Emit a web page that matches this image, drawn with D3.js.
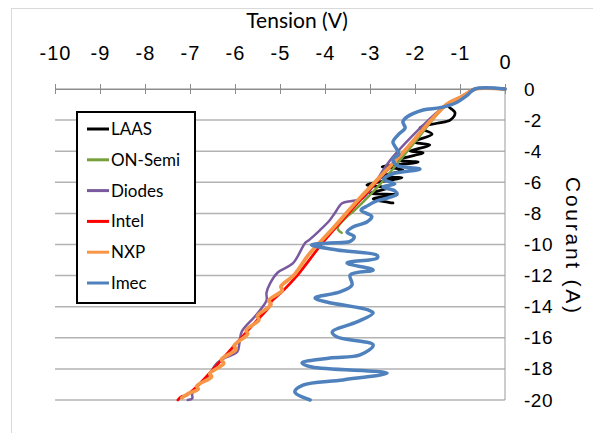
<!DOCTYPE html>
<html>
<head>
<meta charset="utf-8">
<script src="https://cdn.jsdelivr.net/npm/d3@7"></script>
<style>
  body { margin: 0; background: #fff; }
  svg { display: block; }
</style>
</head>
<body>
<div id="container"></div>
<script>
// tick values
let xTicks = [-10, -9, -8, -7, -6, -5, -4, -3, -2, -1, 0];
let yTicks = [0, -2, -4, -6, -8, -10, -12, -14, -16, -18, -20];

let seriesNames = ["LAAS", "ON-Semi", "Diodes", "Intel", "NXP", "Imec"];
let seriesColors = ["#000000", "#77a03c", "#7a5a9e", "#ff0000", "#f79646", "#4f81bd"];

// [tension V, courant A]
let laas = [[0,0],[-0.67,0],[-0.8,-0.2],[-1.0,-0.55],[-1.27,-1.03],[-1.11,-1.54],[-1.22,-2.0],[-1.51,-2.2],
  [-1.89,-2.5],[-1.62,-2.9],[-2.04,-3.4],[-1.67,-3.6],[-2.11,-4.0],[-1.82,-4.1],[-2.4,-4.57],[-1.93,-4.7],
  [-2.73,-5.0],[-2.27,-5.2],[-2.78,-5.66],[-2.29,-5.7],[-3.07,-6.17],[-2.6,-6.37],[-3.0,-6.7],[-2.4,-6.8],
  [-2.93,-7.07],[-2.49,-7.33]];
let onSemi = [[0,0],[-0.67,0],[-0.8,-0.2],[-1.0,-0.55],[-1.3,-1.0],[-2.0,-3.4],[-2.8,-6.2],[-3.2,-7.4],
  [-3.38,-7.9],[-3.51,-8.2],[-3.72,-8.95],[-3.63,-9.25]];
let diodes = [[0,0],[-0.67,0],[-0.8,-0.2],[-1.0,-0.55],[-1.3,-1.0],[-2.5,-4.4],[-3.15,-7.0],[-3.4,-7.2],
  [-3.62,-7.35],[-3.78,-7.97],[-3.89,-8.42],[-4.11,-9.07],[-4.35,-9.7],[-4.44,-9.9],[-4.71,-11.2],
  [-5.05,-11.8],[-5.22,-12.5],[-5.3,-13.1],[-5.3,-13.6],[-5.55,-14.6],[-5.85,-15.6],[-5.9,-16.3],
  [-5.95,-16.9],[-6.3,-17.4],[-6.45,-17.8],[-6.55,-18.3],[-6.8,-19.0],[-6.95,-19.6],[-6.95,-19.9],[-7.05,-20]];
let intel = [[0,0],[-0.67,0],[-0.8,-0.2],[-1.0,-0.55],[-1.3,-1.0],[-2.3,-4.2],[-3.2,-7.1],[-4.0,-9.7],
  [-4.62,-12.0],[-4.94,-13.0],[-5.2,-13.7],[-5.24,-14.0],[-5.55,-15.0],[-5.86,-16.0],[-6.17,-17.0],
  [-6.48,-18.0],[-6.8,-19.0],[-7.08,-19.7],[-7.2,-19.8],[-7.27,-20]];
let nxp = [[0,0],[-0.67,0],[-0.8,-0.2],[-1.0,-0.55],[-1.3,-1.0],[-2.3,-4.2],[-3.22,-7.0],[-3.9,-9.2],
  [-4.35,-10.6],[-4.7,-12.0],[-4.98,-12.7],[-4.95,-12.95],[-5.25,-13.6],[-5.2,-13.85],[-5.5,-14.6],
  [-5.47,-14.85],[-5.75,-15.5],[-5.72,-15.75],[-6.02,-16.5],[-5.98,-16.75],[-6.3,-17.4],[-6.25,-17.65],
  [-6.56,-18.3],[-6.52,-18.5],[-6.85,-19.1],[-6.82,-19.3],[-7.05,-19.6],[-7.18,-19.85]];
let imec = [[0,0],[-0.67,0],[-0.84,-0.4],[-1.1,-0.9],[-1.44,-1.2],[-1.82,-1.35],[-2.18,-1.8],[-2.27,-2.12],
  [-2.22,-2.5],[-2.38,-2.96],[-2.49,-3.41],[-2.42,-3.8],[-2.36,-4.2],[-2.49,-4.5],[-2.4,-4.9],[-1.89,-5.15],
  [-2.49,-5.45],[-2.7,-5.8],[-2.45,-6.1],[-2.71,-6.3],[-2.45,-6.55],[-2.4,-6.75],[-2.6,-7.0],[-2.85,-7.2],
  [-3.05,-7.5],[-3.2,-7.8],[-2.96,-8.2],[-3.07,-8.55],[-3.38,-8.87],[-3.51,-9.2],[-3.35,-9.5],[-3.44,-9.8],
  [-3.9,-9.9],[-4.3,-10.03],[-3.73,-10.35],[-2.84,-10.7],[-2.84,-10.87],[-3.51,-11.19],[-2.93,-11.64],
  [-3.44,-11.96],[-3.4,-12.6],[-3.67,-13.05],[-4.22,-13.44],[-3.96,-13.7],[-3.04,-14.21],[-2.93,-14.4],
  [-3.29,-14.98],[-3.84,-15.63],[-3.73,-15.95],[-2.93,-16.46],[-3.22,-17.1],[-3.89,-17.3],[-4.51,-17.62],
  [-4.29,-17.88],[-2.62,-18.26],[-3.6,-18.71],[-4.49,-19.04],[-4.67,-19.49],[-4.33,-20.0]];

let seriesData = [laas, onSemi, diodes, intel, nxp, imec];
let seriesWidths = [2.75, 2.5, 2.5, 2.75, 3.75, 3.5];

let width = 593, height = 433;

let svg = d3.select("#container").append("svg")
    .attr("width", width)
    .attr("height", height);

// chart area border
svg.append("rect")
    .attr("x", 11.5).attr("y", 8.5)
    .attr("width", 620).attr("height", 460)
    .attr("fill", "none")
    .attr("stroke", "#d9d9d9");

let xScale = d3.scaleLinear().domain([-10, 0]).range([55, 505]);
let yScale = d3.scaleLinear().domain([-20, 0]).range([400, 89]);

// gridlines
svg.append("g").selectAll("line").data(yTicks)
  .enter().append("line")
    .attr("x1", xScale(-10)).attr("x2", xScale(0))
    .attr("y1", d => yScale(d)).attr("y2", d => yScale(d))
    .attr("stroke", "#b3b3b3")
    .attr("stroke-width", 1.5);

// right axis line
svg.append("line")
    .attr("x1", xScale(0)).attr("x2", xScale(0))
    .attr("y1", yScale(0)).attr("y2", yScale(-20))
    .attr("stroke", "#9a9a9a");

// top axis
let xAxis = d3.axisTop(xScale)
    .tickValues(xTicks)
    .tickFormat(d => String(d))
    .tickSizeInner(5)
    .tickSizeOuter(0);

let xAxisGroup = svg.append("g")
    .attr("transform", "translate(0," + yScale(0) + ")")
    .call(xAxis);

xAxisGroup.select(".domain").attr("stroke", "#8c8c8c");
xAxisGroup.selectAll(".tick line")
    .attr("stroke", "#8c8c8c")
    .attr("y1", -5).attr("y2", 5);
xAxisGroup.selectAll(".tick text")
    .attr("y", d => d === 0 ? -20 : -29)
    .attr("dy", 0)
    .attr("fill", "#000")
    .style("font-family", "'Liberation Sans', Arial, sans-serif")
    .style("font-size", "20px")
    .style("letter-spacing", "1px");

// right axis labels
let yAxis = d3.axisRight(yScale)
    .tickValues(yTicks)
    .tickFormat(d => String(d))
    .tickSize(0)
    .tickPadding(19);

let yAxisGroup = svg.append("g")
    .attr("transform", "translate(" + xScale(0) + ",0)")
    .call(yAxis);

yAxisGroup.select(".domain").remove();
yAxisGroup.selectAll(".tick text")
    .attr("fill", "#000")
    .style("font-family", "'Liberation Sans', Arial, sans-serif")
    .style("font-size", "19px")
    .style("letter-spacing", "0.5px");

// axis titles
svg.append("text")
    .attr("x", 297).attr("y", 28)
    .attr("text-anchor", "middle")
    .style("font-family", "Lato, sans-serif")
    .style("font-size", "21px")
    .text("Tension (V)");

svg.append("text")
    .attr("transform", "translate(566,245) rotate(90)")
    .attr("text-anchor", "middle")
    .attr("textLength", 136)
    .attr("lengthAdjust", "spacing")
    .style("font-family", "'Liberation Sans', Arial, sans-serif")
    .style("font-size", "21px")
    .text("Courant (A)");

// series
let line = d3.line()
    .x(d => xScale(d[0]))
    .y(d => yScale(d[1]))
    .curve(d3.curveCatmullRom.alpha(0.5));

svg.append("g").selectAll("path").data(seriesData)
  .enter().append("path")
    .attr("d", line)
    .attr("fill", "none")
    .attr("stroke", (d, i) => seriesColors[i])
    .attr("stroke-width", (d, i) => seriesWidths[i])
    .attr("stroke-linejoin", "round")
    .attr("stroke-linecap", "round");

// legend
let legendBox = svg.append("g").attr("transform", "translate(77,112)");

legendBox.append("rect")
    .attr("width", 118).attr("height", 191)
    .attr("fill", "#fff")
    .attr("stroke", "#000")
    .attr("stroke-width", 2);

let legend = legendBox.selectAll(".legend").data(seriesNames)
  .enter().append("g")
    .attr("class", "legend")
    .attr("transform", (d, i) => "translate(0," + (17 + i * 30.8) + ")");

legend.append("line")
    .attr("x1", 10).attr("x2", 32)
    .attr("stroke", (d, i) => seriesColors[i])
    .attr("stroke-width", 3);

legend.append("text")
    .attr("x", 34)
    .attr("dy", ".35em")
    .style("font-family", "Lato, sans-serif")
    .style("font-size", "17px")
    .text(d => d);
</script>
</body>
</html>
